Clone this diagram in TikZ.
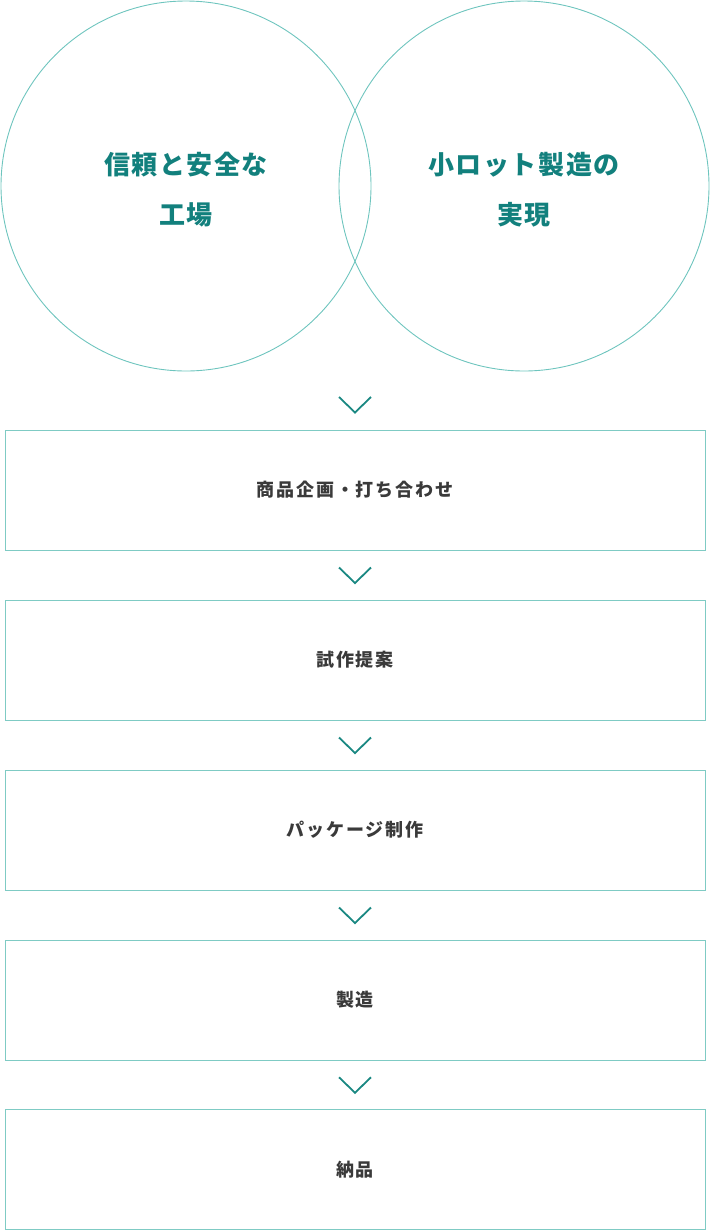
\documentclass[tikz,border=0pt]{standalone}
\usepackage{fontspec}
\newfontfamily\jptitle[LetterSpace=6]{Noto Sans CJK JP}
\newfontfamily\jpbox[LetterSpace=10]{Noto Sans CJK JP}
\definecolor{teal1}{HTML}{12807D}
\definecolor{ring}{HTML}{6EC5BE}
\definecolor{boxline}{HTML}{7FCBC4}
\definecolor{chev}{HTML}{1A8882}
\definecolor{txt}{HTML}{3A3A3A}
\begin{document}
\begin{tikzpicture}[x=1pt,y=-1pt,
  ringstyle/.style={draw=ring,line width=0.9pt,circle,minimum size=370pt,inner sep=0pt},
  titletext/.style={text=teal1,font=\jptitle\bfseries\fontsize{26}{50}\selectfont,align=center},
  stepbox/.style={draw=boxline,line width=0.9pt,minimum width=700pt,minimum height=120pt,inner sep=0pt,
    text=txt,font=\jpbox\bfseries\fontsize{18}{20}\selectfont},
  chevron/.style={draw=chev,line width=1.8pt}]
\useasboundingbox (0,0) rectangle (710,1232);
\node[ringstyle] (c1) at (186,186) {};
\node[ringstyle] (c2) at (524,186) {};
\node[titletext] (t1) at (186,190) {信頼と安全な\\工場};
\node[titletext] (t2) at (524,190) {小ロット製造の\\実現};
\node[stepbox] (b1) at (355,490) {商品企画・打ち合わせ};
\node[stepbox] (b2) at (355,660) {試作提案};
\node[stepbox] (b3) at (355,830) {パッケージ制作};
\node[stepbox] (b4) at (355,1000) {製造};
\node[stepbox] (b5) at (355,1169.5) {納品};
\coordinate (m0) at (355,404.5);
\path (b1.south) -- (b2.north) coordinate[midway] (m1);
\path (b2.south) -- (b3.north) coordinate[midway] (m2);
\path (b3.south) -- (b4.north) coordinate[midway] (m3);
\path (b4.south) -- (b5.north) coordinate[midway] (m4);
\foreach \m in {m0,m1,m2,m3,m4}{
  \draw[chevron] ([shift={(-16,-7.5)}]\m) -- ([shift={(0,8)}]\m) -- ([shift={(16,-7.5)}]\m);
}
\end{tikzpicture}
\end{document}
